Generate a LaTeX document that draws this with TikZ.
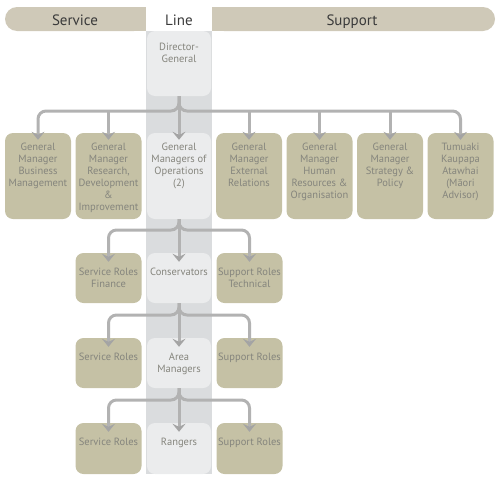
\documentclass[tikz,border=0pt]{standalone}
\usepackage{fontspec}
\setmainfont{PT Sans}
\usetikzlibrary{arrows.meta}

\definecolor{headbar}{HTML}{CFC9B8}
\definecolor{svcfill}{HTML}{C5C1A5}
\definecolor{linecol}{HTML}{DADCDE}
\definecolor{lnfill}{HTML}{EBECED}
\definecolor{boxtext}{HTML}{85857D}
\definecolor{pipecol}{HTML}{B2B2B2}
\definecolor{tipcol}{HTML}{A4A4A4}
\definecolor{headtext}{HTML}{3A3A3A}

% width, height, top skip, text
\newcommand{\boxtxt}[4]{\parbox[c][#2][t]{#1}{\centering\vspace*{#3}\strut #4}}

\begin{document}
\begin{tikzpicture}[x=1pt,y=-1pt,
  box/.style={rounded corners=8pt, inner sep=0pt, text=boxtext, font=\fontsize{10.5}{12}\selectfont},
  svcbox/.style={box, fill=svcfill},
  lnbox/.style={box, fill=lnfill},
  headtxt/.style={anchor=base, font=\fontsize{15}{18}\selectfont, text=headtext},
  pipe/.style={draw=pipecol, line width=3pt, rounded corners=8pt,
    -{Stealth[width=13pt,length=8pt,inset=3pt,color=tipcol]}}]
\useasboundingbox (0,0) rectangle (500,482);

% line column and header bars
\fill[linecol] (146,31) rectangle (212,474);
\fill[headbar, rounded corners=12pt] (5,7) rectangle (146,31);
\fill[headbar] (120,7) rectangle (146,31);
\fill[headbar, rounded corners=12pt] (212,7) rectangle (495,31);
\fill[headbar] (212,7) rectangle (240,31);
\node[headtxt] (service) at (75,25.5) {Service};
\node[headtxt] (line) at (179,25.5) {Line};
\node[headtxt] (support) at (352,25.5) {Support};

% top
\node[lnbox] (dg) at (179,63.5) {\boxtxt{64pt}{65pt}{11pt}{Director-\\General}};

% general managers
\node[svcbox] (bm) at (38,176) {\boxtxt{66pt}{86pt}{9pt}{General\\Manager\\Business\\Management}};
\node[svcbox] (rd) at (108.5,176) {\boxtxt{66pt}{86pt}{9pt}{General\\Manager\\Research,\\Development\\\&\\Improvement}};
\node[lnbox] (ops) at (179,176) {\boxtxt{64pt}{86pt}{9pt}{General\\Managers of\\Operations\\(2)}};
\node[svcbox] (er) at (249,176) {\boxtxt{66pt}{86pt}{9pt}{General\\Manager\\External\\Relations}};
\node[svcbox] (hr) at (319.5,176) {\boxtxt{66pt}{86pt}{9pt}{General\\Manager\\Human\\Resources \&\\Organisation}};
\node[svcbox] (sp) at (390,176) {\boxtxt{66pt}{86pt}{9pt}{General\\Manager\\Strategy \&\\Policy}};
\node[svcbox] (tk) at (460.5,176) {\boxtxt{66pt}{86pt}{9pt}{Tumuaki\\Kaupapa\\Atawhai\\(Māori\\Advisor)}};

% conservators
\node[svcbox] (srf) at (108.5,278) {\boxtxt{66pt}{50pt}{14pt}{Service Roles\\Finance}};
\node[lnbox] (cons) at (179,278) {\boxtxt{64pt}{50pt}{14pt}{Conservators}};
\node[svcbox] (srt) at (249.5,278) {\boxtxt{66pt}{50pt}{14pt}{Support Roles\\Technical}};

% area managers
\node[svcbox] (svam) at (108.5,363) {\boxtxt{66pt}{50pt}{14pt}{Service Roles}};
\node[lnbox] (am) at (179,363) {\boxtxt{64pt}{50pt}{14pt}{Area\\Managers}};
\node[svcbox] (suam) at (249.5,363) {\boxtxt{66pt}{50pt}{14pt}{Support Roles}};

% rangers
\node[svcbox] (svrg) at (108.5,448.5) {\boxtxt{66pt}{51pt}{14pt}{Service Roles}};
\node[lnbox] (rg) at (179,448.5) {\boxtxt{64pt}{51pt}{14pt}{Rangers}};
\node[svcbox] (surg) at (249.5,448.5) {\boxtxt{66pt}{51pt}{14pt}{Support Roles}};

% connectors
\coordinate (hubdg) at (179,111);
\draw[pipe] (dg.south) |- (bm.north |- hubdg) -- ([yshift=-7pt]bm.north);
\draw[pipe] (dg.south) |- (tk.north |- hubdg) -- ([yshift=-7pt]tk.north);
\draw[pipe] (dg.south) -- ([yshift=-7pt]ops.north);
\draw[pipe] (rd.north |- hubdg) -- ([yshift=-7pt]rd.north);
\draw[pipe] (er.north |- hubdg) -- ([yshift=-7pt]er.north);
\draw[pipe] (hr.north |- hubdg) -- ([yshift=-7pt]hr.north);
\draw[pipe] (sp.north |- hubdg) -- ([yshift=-7pt]sp.north);

\coordinate (hubops) at (179,230);
\draw[pipe] (ops.south) |- (srf.north |- hubops) -- ([yshift=-9pt]srf.north);
\draw[pipe] (ops.south) |- (srt.north |- hubops) -- ([yshift=-9pt]srt.north);
\draw[pipe] (ops.south) -- ([yshift=-9pt]cons.north);

\coordinate (hubcons) at (179,315);
\draw[pipe] (cons.south) |- (svam.north |- hubcons) -- ([yshift=-9pt]svam.north);
\draw[pipe] (cons.south) |- (suam.north |- hubcons) -- ([yshift=-9pt]suam.north);
\draw[pipe] (cons.south) -- ([yshift=-9pt]am.north);

\coordinate (hubam) at (179,400);
\draw[pipe] (am.south) |- (svrg.north |- hubam) -- ([yshift=-9pt]svrg.north);
\draw[pipe] (am.south) |- (surg.north |- hubam) -- ([yshift=-9pt]surg.north);
\draw[pipe] (am.south) -- ([yshift=-9pt]rg.north);
\end{tikzpicture}
\end{document}
